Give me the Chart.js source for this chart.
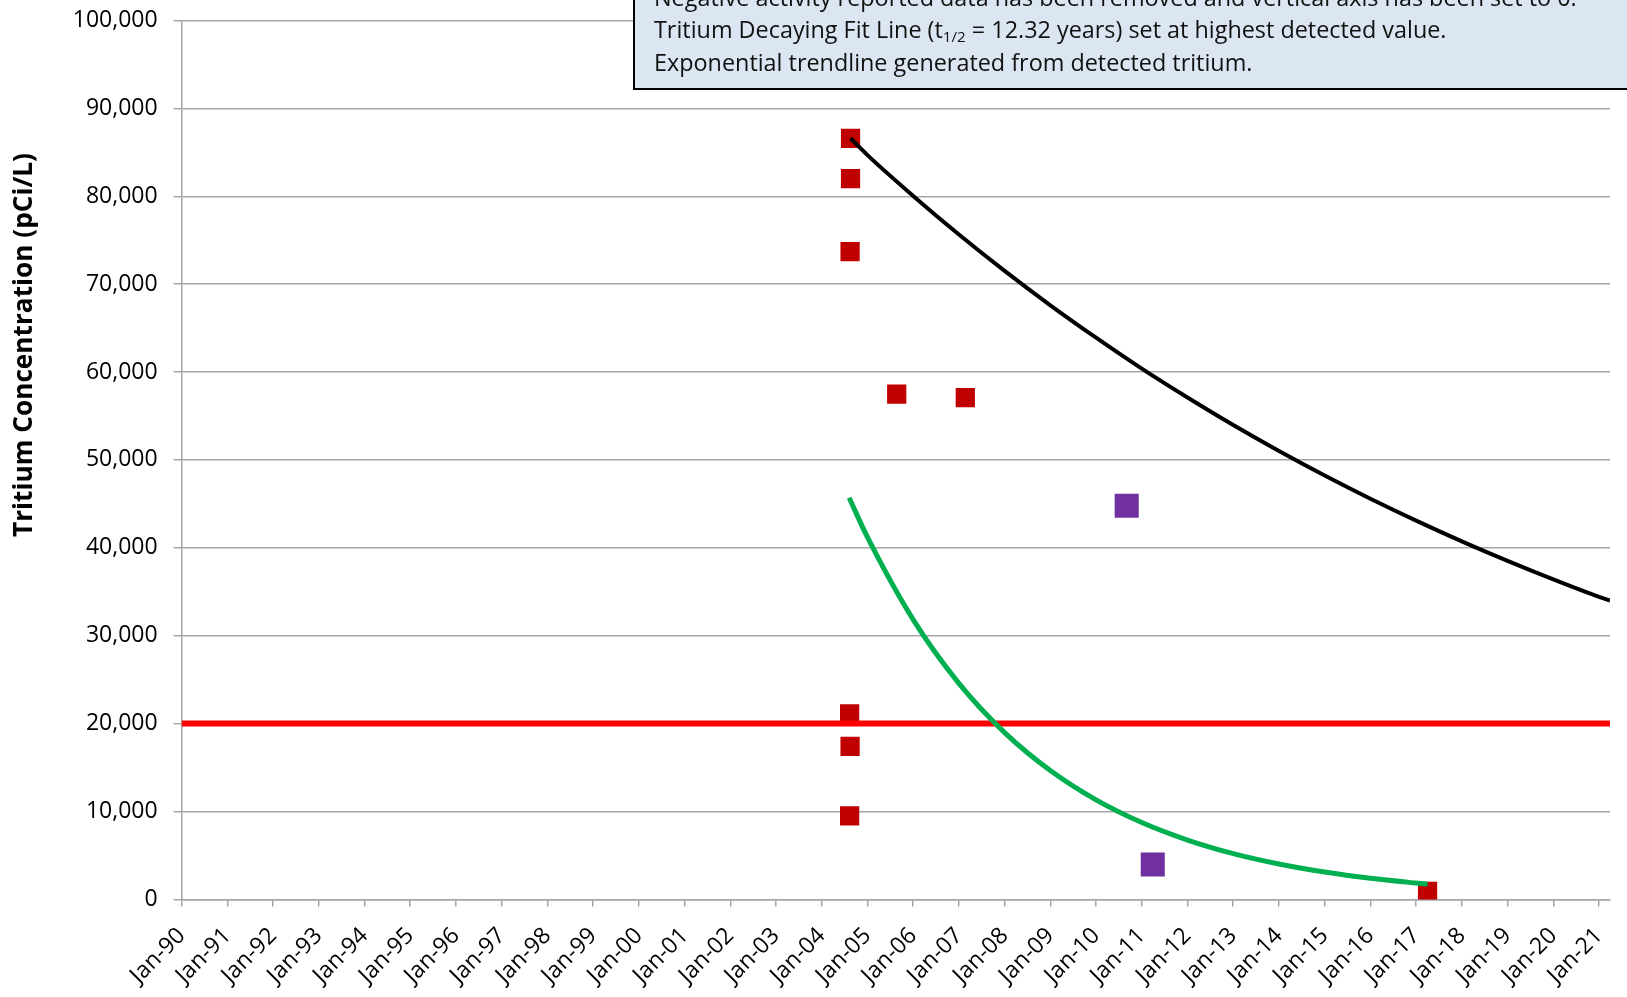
<!DOCTYPE html>
<html>
<head>
<meta charset="utf-8">
<script src="https://cdn.jsdelivr.net/npm/chart.js@4.4.1/dist/chart.umd.min.js"></script>
<style>
  html, body { margin: 0; padding: 0; background: #fff; }
  canvas { display: block; }
</style>
</head>
<body>
<canvas id="myChart" width="1627" height="997"></canvas>
<script>
// detected tritium results (red squares)
var redDates  = [2004.63, 2004.63, 2004.62, 2005.64, 2007.14, 2004.61, 2004.62, 2004.61, 2017.25];
var redValues = [86600, 82000, 73700, 57500, 57100, 21100, 17400, 9500, 900];

// second sample set (purple squares)
var purpleDates  = [2010.67, 2011.24];
var purpleValues = [44800, 3960];

// decaying fit line (black)
var decayDates  = [2004.63, 2005, 2006, 2007, 2008, 2009, 2010, 2011, 2012, 2013, 2014, 2015, 2016, 2017, 2018, 2019, 2020, 2021, 2021.24];
var decayValues = [86600, 84680, 80040, 75650, 71510, 67600, 63910, 60390, 57100, 53970, 51020, 48230, 45590, 43100, 40740, 38520, 36410, 34420, 34000];

// exponential trendline (green)
var trendDates  = [2004.6, 2005, 2006, 2007, 2008, 2009, 2010, 2011, 2012, 2013, 2014, 2015, 2016, 2017, 2017.25];
var trendValues = [45700, 41210, 31830, 24580, 18980, 14660, 11320, 8740, 6750, 5210, 4030, 3110, 2400, 1860, 1740];

// 20,000 pCi/L limit
var limitDates  = [1990, 2021.24];
var limitValues = [20000, 20000];

var tickYears = [1990, 1991, 1992, 1993, 1994, 1995, 1996, 1997, 1998, 1999, 2000, 2001, 2002, 2003, 2004, 2005,
                 2006, 2007, 2008, 2009, 2010, 2011, 2012, 2013, 2014, 2015, 2016, 2017, 2018, 2019, 2020, 2021];
var tickLabels = ['Jan-90', 'Jan-91', 'Jan-92', 'Jan-93', 'Jan-94', 'Jan-95', 'Jan-96', 'Jan-97', 'Jan-98', 'Jan-99',
                  'Jan-00', 'Jan-01', 'Jan-02', 'Jan-03', 'Jan-04', 'Jan-05', 'Jan-06', 'Jan-07', 'Jan-08', 'Jan-09',
                  'Jan-10', 'Jan-11', 'Jan-12', 'Jan-13', 'Jan-14', 'Jan-15', 'Jan-16', 'Jan-17', 'Jan-18', 'Jan-19',
                  'Jan-20', 'Jan-21'];

var yTitle = 'Tritium Concentration (pCi/L)';
var noteLines = [
  'Negative activity reported data has been removed and vertical axis has been set to 0.',
  'Tritium Decaying Fit Line (t',
  '1/2',
  ' = 12.32 years) set at highest detected value.',
  'Exponential trendline generated from detected tritium.'
];

function pairs(xs, ys) {
  return xs.map(function(x, i) { return { x: x, y: ys[i] }; });
}

var gray = '#a6a6a6';
var tickFont = { family: '"Open Sans"', size: 23 };

var notePlugin = {
  id: 'note',
  afterDraw: function(chart) {
    var c = chart.ctx;

    // axis title, placed where the original has it
    c.save();
    c.fillStyle = '#000';
    c.font = 'bold 100px "Open Sans"';
    var s = 100 * 384 / c.measureText(yTitle).width;
    c.font = 'bold ' + s + 'px "Open Sans"';
    c.translate(25, 345);
    c.rotate(-Math.PI / 2);
    c.textAlign = 'center';
    c.textBaseline = 'middle';
    c.fillText(yTitle, 0, 0);
    c.restore();

    // note box
    c.save();
    c.fillStyle = '#dce6f2';
    c.fillRect(634, -10, 1100, 99);
    c.lineWidth = 2;
    c.strokeStyle = '#000';
    c.strokeRect(634, -10, 1100, 99);

    var fam = '"Open Sans"';
    c.font = '100px ' + fam;
    var fs = 100 * 599 / c.measureText(noteLines[4]).width;
    c.fillStyle = '#111';
    c.textBaseline = 'middle';
    c.textAlign = 'left';
    c.font = fs + 'px ' + fam;
    var x0 = 654;
    c.fillText(noteLines[0], x0, -1);
    c.fillText(noteLines[1], x0, 31);
    var w1 = c.measureText(noteLines[1]).width;
    c.font = (fs * 0.65) + 'px ' + fam;
    c.fillText(noteLines[2], x0 + w1, 31 + fs * 0.3);
    var w2 = c.measureText(noteLines[2]).width;
    c.font = fs + 'px ' + fam;
    c.fillText(noteLines[3], x0 + w1 + w2, 31);
    c.fillText(noteLines[4], x0, 64);
    c.restore();
  }
};

var ctx = document.getElementById('myChart').getContext('2d');
var config = {
  type: 'scatter',
  data: {
    datasets: [
      {
        type: 'line',
        label: 'Decay fit',
        data: pairs(decayDates, decayValues),
        borderColor: '#000000',
        borderWidth: 4,
        pointRadius: 0,
        cubicInterpolationMode: 'monotone',
        fill: false,
        order: 0
      },
      {
        type: 'line',
        label: 'Trendline',
        data: pairs(trendDates, trendValues),
        borderColor: '#00b050',
        borderWidth: 5,
        pointRadius: 0,
        cubicInterpolationMode: 'monotone',
        fill: false,
        order: 0
      },
      {
        type: 'line',
        label: 'Limit',
        data: pairs(limitDates, limitValues),
        borderColor: '#ff0000',
        borderWidth: 6,
        pointRadius: 0,
        fill: false,
        order: 0
      },
      {
        label: 'Detected',
        data: pairs(redDates, redValues),
        pointStyle: 'rect',
        pointRadius: 13.6,
        backgroundColor: '#c00000',
        borderWidth: 0,
        order: 1
      },
      {
        label: 'Other',
        data: pairs(purpleDates, purpleValues),
        pointStyle: 'rect',
        pointRadius: 17,
        backgroundColor: '#7030a0',
        borderWidth: 0,
        order: 1
      }
    ]
  },
  options: {
    responsive: false,
    animation: false,
    events: [],
    layout: { padding: { top: 20.5, right: 15, left: 0, bottom: 0 } },
    plugins: {
      legend: { display: false },
      tooltip: { enabled: false }
    },
    scales: {
      x: {
        type: 'linear',
        min: 1990,
        max: 2021.24,
        afterBuildTicks: function(scale) {
          scale.ticks = tickYears.map(function(v) { return { value: v }; });
        },
        afterFit: function(scale) {
          scale.height = 97.6;
          scale.paddingLeft = 0;
          scale.paddingRight = 0;
        },
        ticks: {
          autoSkip: false,
          maxRotation: 45,
          minRotation: 45,
          padding: 16,
          color: '#000',
          font: tickFont,
          callback: function(v, i) { return tickLabels[i]; }
        },
        grid: { drawOnChartArea: false, color: gray, lineWidth: 1.5, tickLength: 7 },
        border: { color: gray, width: 1.5 }
      },
      y: {
        min: 0,
        max: 100000,
        afterFit: function(scale) {
          scale.width = 181.6;
          scale.paddingTop = 0;
          scale.paddingBottom = 0;
        },
        ticks: {
          stepSize: 10000,
          padding: 16,
          color: '#000',
          font: tickFont,
          callback: function(v) { return v.toLocaleString('en-US'); }
        },
        grid: { color: gray, lineWidth: 1.5, tickLength: 8 },
        border: { color: gray, width: 1.5 }
      }
    }
  },
  plugins: [notePlugin]
};
var myChart = new Chart(ctx, config);
</script>
</body>
</html>
